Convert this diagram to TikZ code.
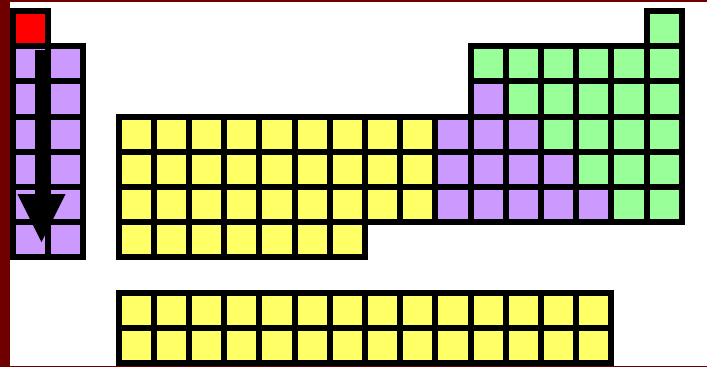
\documentclass[tikz,border=0pt]{standalone}
\definecolor{elred}{HTML}{FF0000}
\definecolor{elpurple}{HTML}{CC99FF}
\definecolor{elgreen}{HTML}{99FF99}
\definecolor{elyellow}{HTML}{FFFF66}
\definecolor{framered}{HTML}{700000}
\tikzset{
  cellbox/.style={draw=black, line width=6pt},
  framebar/.style={fill=framered, draw=none},
}
\newcommand{\elcell}[3]{%
  \fill[#3] ({13+35.2*#1},{11+35.2*#2}) rectangle ++(35.2,35.2);%
}
\newcommand{\elline}[2]{%
  \draw[cellbox] ({13+35.2*#1},{11+35.2*#2}) rectangle ++(35.2,35.2);%
}
\begin{document}
\begin{tikzpicture}[x=1pt,y=-1pt]
\useasboundingbox (0,0) rectangle (707,367);
\fill[white] (0,0) rectangle (707,367);
% cell list: col/row/colour
\def\celllist{0/0/elred, 18/0/elgreen,
  0/1/elpurple,1/1/elpurple,0/2/elpurple,1/2/elpurple,0/3/elpurple,1/3/elpurple,
  0/4/elpurple,1/4/elpurple,0/5/elpurple,1/5/elpurple,0/6/elpurple,1/6/elpurple,
  13/1/elgreen,14/1/elgreen,15/1/elgreen,16/1/elgreen,17/1/elgreen,18/1/elgreen,
  13/2/elpurple,14/2/elgreen,15/2/elgreen,16/2/elgreen,17/2/elgreen,18/2/elgreen,
  3/3/elyellow,4/3/elyellow,5/3/elyellow,6/3/elyellow,7/3/elyellow,8/3/elyellow,9/3/elyellow,10/3/elyellow,11/3/elyellow,
  12/3/elpurple,13/3/elpurple,14/3/elpurple,15/3/elgreen,16/3/elgreen,17/3/elgreen,18/3/elgreen,
  3/4/elyellow,4/4/elyellow,5/4/elyellow,6/4/elyellow,7/4/elyellow,8/4/elyellow,9/4/elyellow,10/4/elyellow,11/4/elyellow,
  12/4/elpurple,13/4/elpurple,14/4/elpurple,15/4/elpurple,16/4/elgreen,17/4/elgreen,18/4/elgreen,
  3/5/elyellow,4/5/elyellow,5/5/elyellow,6/5/elyellow,7/5/elyellow,8/5/elyellow,9/5/elyellow,10/5/elyellow,11/5/elyellow,
  12/5/elpurple,13/5/elpurple,14/5/elpurple,15/5/elpurple,16/5/elpurple,17/5/elgreen,18/5/elgreen,
  3/6/elyellow,4/6/elyellow,5/6/elyellow,6/6/elyellow,7/6/elyellow,8/6/elyellow,9/6/elyellow}
\foreach \c/\r/\k in \celllist { \elcell{\c}{\r}{\k} }
\foreach \c in {3,...,16} { \elcell{\c}{8}{elyellow} \elcell{\c}{9}{elyellow} }
\foreach \c/\r/\k in \celllist { \elline{\c}{\r} }
\foreach \c in {3,...,16} { \elline{\c}{8} \elline{\c}{9} }
% arrow
\fill[black] (34.5,50) rectangle (48.5,195);
\fill[black] (17.5,194) -- (65.5,194) -- (41.5,242) -- cycle;
% frame
\fill[framebar] (0,0) rectangle (10,367);
\fill[framebar] (0,0) rectangle (707,2);
\fill[framebar] (0,365.8) rectangle (707,367);
\end{tikzpicture}
\end{document}
